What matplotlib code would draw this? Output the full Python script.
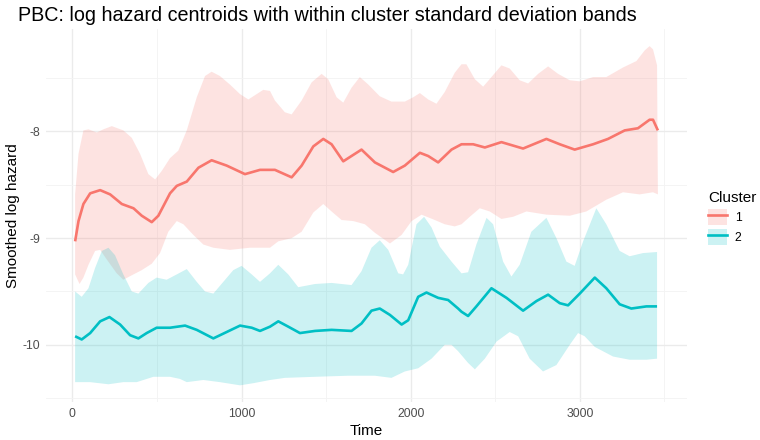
import numpy as np
import matplotlib
matplotlib.use("Agg")
import matplotlib.pyplot as plt
from matplotlib.lines import Line2D
from matplotlib.patches import Patch

plt.rcParams['font.family'] = ['Liberation Sans', 'DejaVu Sans']

title = "PBC: log hazard centroids with within cluster standard deviation bands"
xlabel = "Time"
ylabel = "Smoothed log hazard"
legend_title = "Cluster"
cluster_labels = ["1", "2"]
colors = ["#F8766D", "#00BFC4"]

# Cluster 1 centroid
t1_mean = [16, 36, 65, 105, 164, 223, 292, 361, 410, 469, 508, 577, 617, 676, 745, 823, 912, 1020,
           1109, 1168, 1197, 1296, 1355, 1424, 1483, 1532, 1601, 1650, 1709, 1788, 1896, 1965, 2054,
           2103, 2162, 2241, 2300, 2369, 2438, 2536, 2664, 2802, 2881, 2969, 3078, 3166, 3265, 3343,
           3412, 3432, 3461]
y1_mean = [-9.03, -8.84, -8.68, -8.58, -8.55, -8.59, -8.68, -8.72, -8.79, -8.85, -8.79, -8.58, -8.51,
           -8.47, -8.34, -8.27, -8.32, -8.40, -8.36, -8.36, -8.36, -8.43, -8.32, -8.14, -8.07, -8.12,
           -8.28, -8.23, -8.17, -8.29, -8.38, -8.32, -8.20, -8.23, -8.29, -8.17, -8.12, -8.12, -8.15,
           -8.10, -8.16, -8.07, -8.12, -8.17, -8.12, -8.07, -7.99, -7.97, -7.89, -7.89, -7.99]

# Cluster 1 band (centroid +/- within cluster SD)
t1_up = [16, 36, 65, 95, 144, 183, 233, 301, 351, 400, 449, 489, 528, 577, 626, 676, 735, 784, 823,
         872, 931, 991, 1040, 1089, 1128, 1168, 1197, 1256, 1296, 1355, 1414, 1473, 1512, 1562, 1601,
         1650, 1699, 1749, 1817, 1886, 1965, 2014, 2054, 2103, 2152, 2201, 2260, 2300, 2329, 2379,
         2428, 2477, 2536, 2585, 2644, 2694, 2753, 2812, 2871, 2940, 2999, 3078, 3156, 3255, 3334,
         3383, 3412, 3432, 3456]
y1_up = [-8.59, -8.21, -7.99, -7.98, -8.01, -7.98, -7.95, -7.99, -8.06, -8.21, -8.40, -8.45, -8.37,
         -8.25, -8.18, -7.99, -7.68, -7.48, -7.44, -7.48, -7.56, -7.65, -7.70, -7.65, -7.61, -7.62,
         -7.71, -7.82, -7.84, -7.71, -7.54, -7.46, -7.51, -7.68, -7.73, -7.59, -7.49, -7.56, -7.67,
         -7.72, -7.72, -7.68, -7.64, -7.70, -7.74, -7.63, -7.45, -7.37, -7.37, -7.51, -7.58, -7.49,
         -7.38, -7.41, -7.52, -7.55, -7.46, -7.39, -7.46, -7.52, -7.53, -7.49, -7.49, -7.40, -7.34,
         -7.24, -7.20, -7.23, -7.38]
t1_lo = [16, 42, 65, 95, 134, 164, 203, 262, 301, 361, 410, 469, 518, 567, 617, 656, 715, 774, 833,
         931, 1049, 1168, 1217, 1296, 1355, 1424, 1483, 1532, 1591, 1660, 1729, 1788, 1877, 1946,
         2005, 2064, 2142, 2201, 2260, 2300, 2349, 2408, 2467, 2536, 2605, 2684, 2802, 2940, 3038,
         3156, 3255, 3353, 3432, 3461]
y1_lo = [-9.34, -9.43, -9.37, -9.25, -9.12, -9.11, -9.20, -9.33, -9.39, -9.34, -9.30, -9.24, -9.14,
         -8.94, -8.84, -8.87, -8.97, -9.06, -9.09, -9.11, -9.09, -9.09, -9.03, -9.00, -8.94, -8.76,
         -8.68, -8.75, -8.83, -8.84, -8.87, -8.95, -9.05, -8.97, -8.84, -8.78, -8.83, -8.87, -8.89,
         -8.87, -8.80, -8.72, -8.75, -8.82, -8.80, -8.75, -8.78, -8.79, -8.75, -8.64, -8.57, -8.59,
         -8.57, -8.59]

# Cluster 2 centroid
t2_mean = [16, 55, 105, 164, 219, 282, 341, 390, 439, 498, 577, 666, 735, 833, 912, 991, 1060, 1109,
           1168, 1217, 1276, 1345, 1434, 1532, 1650, 1709, 1768, 1817, 1877, 1946, 1985, 2044, 2093,
           2162, 2221, 2280, 2300, 2339, 2388, 2477, 2566, 2664, 2743, 2812, 2881, 2930, 2999, 3088,
           3156, 3235, 3304, 3393, 3456]
y2_mean = [-9.92, -9.95, -9.89, -9.78, -9.74, -9.81, -9.91, -9.94, -9.89, -9.84, -9.84, -9.82, -9.86,
           -9.94, -9.88, -9.82, -9.84, -9.87, -9.83, -9.78, -9.83, -9.89, -9.87, -9.86, -9.87, -9.80,
           -9.68, -9.66, -9.72, -9.81, -9.77, -9.55, -9.51, -9.56, -9.58, -9.66, -9.69, -9.73, -9.64,
           -9.47, -9.56, -9.68, -9.59, -9.53, -9.61, -9.63, -9.52, -9.37, -9.47, -9.62, -9.66, -9.64,
           -9.64]

# Cluster 2 band (centroid +/- within cluster SD)
t2_up = [16, 55, 95, 134, 174, 213, 252, 301, 351, 390, 449, 498, 557, 617, 676, 735, 784, 833, 892,
         951, 1000, 1060, 1109, 1168, 1217, 1276, 1335, 1434, 1532, 1650, 1709, 1768, 1817, 1867,
         1926, 1955, 1985, 2034, 2079, 2123, 2172, 2241, 2300, 2339, 2388, 2448, 2487, 2546, 2595,
         2644, 2713, 2802, 2861, 2920, 2969, 3019, 3097, 3156, 3235, 3294, 3373, 3456]
y2_up = [-9.50, -9.55, -9.47, -9.28, -9.12, -9.09, -9.16, -9.34, -9.50, -9.52, -9.42, -9.37, -9.39,
         -9.34, -9.29, -9.41, -9.50, -9.52, -9.41, -9.30, -9.26, -9.34, -9.41, -9.33, -9.25, -9.34,
         -9.46, -9.43, -9.42, -9.44, -9.31, -9.09, -9.02, -9.11, -9.33, -9.34, -9.25, -8.87, -8.80,
         -8.90, -9.08, -9.22, -9.33, -9.32, -9.06, -8.81, -8.87, -9.22, -9.36, -9.25, -8.94, -8.81,
         -9.00, -9.22, -9.26, -9.03, -8.72, -8.87, -9.12, -9.17, -9.14, -9.13]
t2_lo = [16, 105, 213, 301, 380, 479, 577, 636, 676, 774, 872, 991, 1069, 1168, 1256, 1434, 1630,
         1788, 1886, 1965, 2044, 2123, 2201, 2241, 2280, 2339, 2379, 2438, 2507, 2585, 2635, 2703,
         2782, 2861, 2940, 2989, 3028, 3088, 3196, 3294, 3393, 3456]
y2_lo = [-10.35, -10.35, -10.37, -10.35, -10.35, -10.30, -10.30, -10.32, -10.35, -10.33, -10.35,
         -10.38, -10.36, -10.33, -10.31, -10.30, -10.29, -10.29, -10.31, -10.25, -10.22, -10.13,
         -10.00, -10.00, -10.06, -10.17, -10.23, -10.13, -9.97, -9.88, -9.92, -10.13, -10.25, -10.19,
         -10.00, -9.89, -9.92, -10.02, -10.11, -10.14, -10.14, -10.13]

xticks = [0, 1000, 2000, 3000]
yticks = [-10, -9, -8]

fig = plt.figure(figsize=(7.6, 4.4), dpi=100)
ax = fig.add_axes([0.0605, 0.0857, 0.8435, 0.848])

bands = [(t1_up, y1_up, t1_lo, y1_lo), (t2_up, y2_up, t2_lo, y2_lo)]
means = [(t1_mean, y1_mean), (t2_mean, y2_mean)]
for (tu, yu, tl, yl), c in zip(bands, colors):
    ax.fill(np.r_[tu, tl[::-1]], np.r_[yu, yl[::-1]], color=c, alpha=0.2, lw=0)
for (tm, ym), c in zip(means, colors):
    ax.plot(tm, ym, color=c, lw=1.9, solid_capstyle='butt', solid_joinstyle='round')

ax.margins(x=0.05, y=0.05)
ax.set_xticks(xticks)
ax.set_xticks([500, 1500, 2500, 3500], minor=True)
ax.set_yticks(yticks)
ax.set_yticks([-10.5, -9.5, -8.5, -7.5], minor=True)
ax.set_yticklabels([str(v) for v in yticks])
ax.grid(True, which='major', color='#EBEBEB', lw=1.0)
ax.grid(True, which='minor', color='#F3F3F3', lw=0.6)
ax.set_axisbelow(True)
for s in ax.spines.values():
    s.set_visible(False)
ax.tick_params(which='both', length=0, labelsize=8.8, labelcolor='#4D4D4D', pad=4)
ax.set_xlabel(xlabel, fontsize=11, labelpad=3)
ax.set_ylabel(ylabel, fontsize=11, labelpad=2)
fig.text(0.024, 0.965, title, fontsize=14.2, ha='left', va='center')

handles = [(Patch(facecolor=c, alpha=0.2, edgecolor='none'), Line2D([], [], color=c, lw=1.9))
           for c in colors]
leg = fig.legend(handles, cluster_labels, title=legend_title, loc='center left',
                 bbox_to_anchor=(0.917, 0.505), frameon=False, fontsize=8.8, title_fontsize=11,
                 handlelength=1.6, handleheight=1.6, labelspacing=0.35, handletextpad=0.6)
leg._legend_box.align = "left"

fig.savefig("out.png", dpi=100, facecolor='white')
